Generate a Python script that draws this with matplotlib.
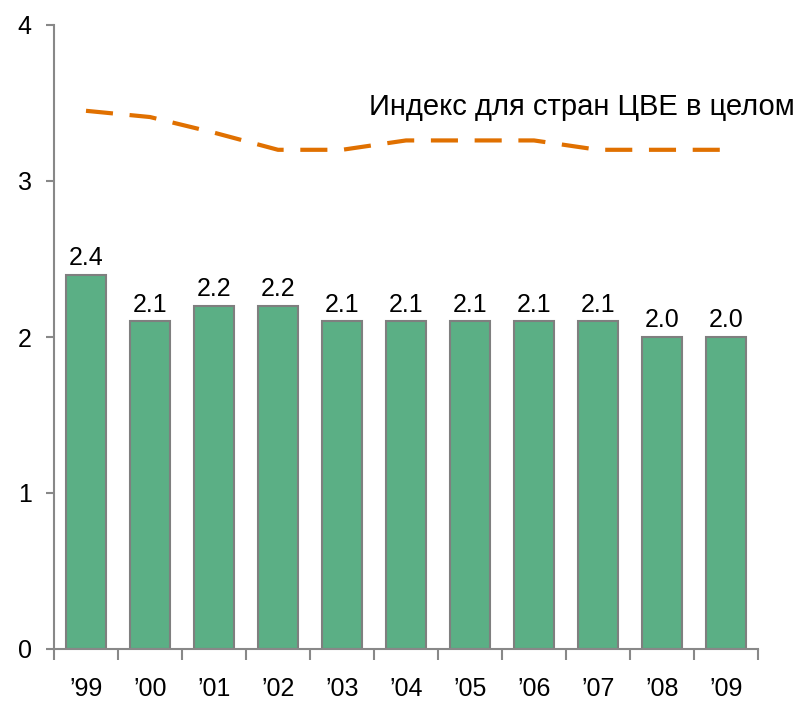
import matplotlib
matplotlib.use("Agg")
import matplotlib.pyplot as plt
import numpy as np

years = ["’99", "’00", "’01", "’02", "’03", "’04", "’05", "’06", "’07", "’08", "’09"]
bar_values = [2.4, 2.1, 2.2, 2.2, 2.1, 2.1, 2.1, 2.1, 2.1, 2.0, 2.0]
cee_index = [3.45, 3.41, 3.31, 3.20, 3.20, 3.26, 3.26, 3.26, 3.20, 3.20, 3.20]
line_label = "Индекс для стран ЦВЕ в целом"
y_ticks = [0, 1, 2, 3, 4]

plt.rcParams['font.family'] = ['Liberation Sans', 'DejaVu Sans']

fig = plt.figure(figsize=(8.12, 7.07), dpi=100)
ax = fig.add_axes([54/812, 1-649/707, (758-54)/812, (649-25)/707])

x = np.arange(len(years))
ax.bar(x, bar_values, width=0.64, color='#5BAF85', edgecolor='#7F7F7F', linewidth=1.5, zorder=2)
for xi, v in zip(x, bar_values):
    ax.annotate(f"{v:.1f}", (xi, v), xytext=(0, 7), textcoords='offset points',
                ha='center', va='baseline', fontsize=18)

ax.plot(x, cee_index, color='#E07000', linewidth=3, dashes=(6.5, 4), zorder=3)
ax.text(11.08, 3.42, line_label, ha='right', va='baseline', fontsize=21, clip_on=False)

ax.set_xlim(-0.5, len(years) - 0.5)
ax.set_ylim(0, 4)
ax.set_yticks(y_ticks)
ax.set_yticklabels([str(t) for t in y_ticks], fontsize=18)

ax.set_xticks(np.arange(len(years) + 1) - 0.5)
ax.set_xticklabels([])
ax.set_xticks(x, minor=True)
ax.set_xticklabels(years, minor=True, fontsize=18)
ax.tick_params(axis='x', which='major', direction='out', length=8, width=1.5, color='#888888')
ax.tick_params(axis='x', which='minor', length=0, pad=20)
ax.tick_params(axis='y', direction='out', length=6, width=1.5, color='#888888', pad=10)

for s in ['top', 'right']:
    ax.spines[s].set_visible(False)
for s in ['left', 'bottom']:
    ax.spines[s].set_color('#888888')
    ax.spines[s].set_linewidth(1.5)

fig.savefig("out.png", dpi=100)
